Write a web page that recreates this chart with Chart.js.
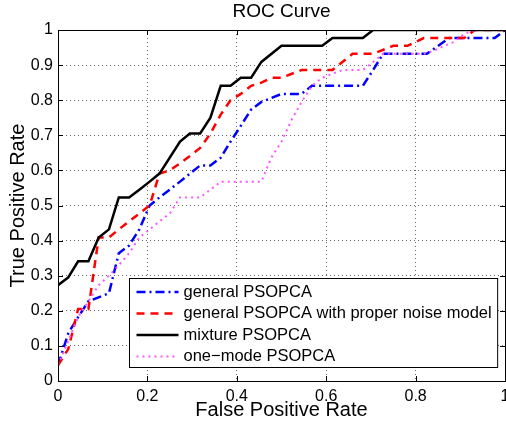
<!DOCTYPE html>
<html>
<head>
<meta charset="utf-8">
<script src="https://cdn.jsdelivr.net/npm/chart.js@4"></script>
<style>
  html, body { margin: 0; padding: 0; overflow: hidden; background: #fff; }
  #wrap { width: 520px; height: 425px; }
</style>
</head>
<body>
<div id="wrap"><canvas id="roc" width="520" height="425"></canvas></div>
<script>
// series names
const seriesNames = [
    "general PSOPCA",
    "general PSOPCA with proper noise model",
    "mixture PSOPCA",
    "one\u2212mode PSOPCA"
]

// general PSOPCA (blue dash-dot)
const fprGeneral = [0, 0.023, 0.045, 0.068, 0.114, 0.136, 0.159, 0.182, 0.205, 0.227, 0.25, 0.273, 0.295, 0.318, 0.341, 0.364, 0.386, 0.409, 0.432, 0.455, 0.5, 0.545, 0.568, 0.682, 0.705, 0.727, 0.825, 0.875, 0.977, 1]
const tprGeneral = [0.045, 0.136, 0.182, 0.227, 0.25, 0.364, 0.386, 0.432, 0.5, 0.523, 0.545, 0.568, 0.591, 0.614, 0.614, 0.636, 0.682, 0.727, 0.773, 0.795, 0.818, 0.818, 0.841, 0.841, 0.886, 0.932, 0.932, 0.977, 0.977, 1]

// general PSOPCA with proper noise model (red dashed)
const fprNoise = [0, 0.023, 0.045, 0.068, 0.091, 0.114, 0.136, 0.159, 0.182, 0.205, 0.227, 0.25, 0.273, 0.295, 0.318, 0.341, 0.364, 0.386, 0.409, 0.432, 0.455, 0.477, 0.5, 0.545, 0.614, 0.659, 0.705, 0.75, 0.782, 0.818, 0.909, 0.932, 1]
const tprNoise = [0.045, 0.091, 0.205, 0.205, 0.409, 0.409, 0.432, 0.455, 0.477, 0.5, 0.591, 0.6, 0.62, 0.641, 0.664, 0.705, 0.759, 0.8, 0.818, 0.841, 0.85, 0.864, 0.864, 0.886, 0.886, 0.932, 0.932, 0.955, 0.955, 0.977, 0.977, 1, 1]

// mixture PSOPCA (black solid)
const fprMixture = [0, 0.023, 0.045, 0.068, 0.091, 0.114, 0.136, 0.159, 0.182, 0.205, 0.227, 0.273, 0.295, 0.318, 0.341, 0.364, 0.386, 0.409, 0.432, 0.455, 0.5, 0.591, 0.614, 0.682, 0.705, 1]
const tprMixture = [0.273, 0.295, 0.341, 0.341, 0.409, 0.432, 0.523, 0.523, 0.545, 0.568, 0.591, 0.682, 0.705, 0.705, 0.75, 0.841, 0.841, 0.864, 0.864, 0.909, 0.955, 0.955, 0.977, 0.977, 1, 1]

// one-mode PSOPCA (magenta dotted)
const fprOneMode = [0, 0.023, 0.045, 0.068, 0.091, 0.114, 0.136, 0.159, 0.182, 0.205, 0.227, 0.25, 0.273, 0.318, 0.341, 0.364, 0.455, 0.477, 0.5, 0.523, 0.545, 0.568, 0.591, 0.636, 0.682, 0.705, 0.727, 0.818, 0.841, 0.864, 0.886, 0.909, 0.932, 1]
const tprOneMode = [0.045, 0.114, 0.182, 0.227, 0.273, 0.3, 0.33, 0.364, 0.409, 0.432, 0.455, 0.477, 0.523, 0.523, 0.545, 0.568, 0.568, 0.636, 0.682, 0.745, 0.795, 0.841, 0.864, 0.886, 0.886, 0.909, 0.932, 0.932, 0.941, 0.955, 0.966, 0.989, 1, 1]

// tick labels
const xTickLabels = ["0", "0.2", "0.4", "0.6", "0.8", "1"]
const yTickLabels = ["0", "0.1", "0.2", "0.3", "0.4", "0.5", "0.6", "0.7", "0.8", "0.9", "1"]

const fontFam = '"Liberation Sans", Arial, Helvetica, sans-serif'

function pts(xs, ys) {
    return xs.map((x, i) => ({ x: x, y: ys[i] }))
}

// box, inner ticks and legend like matlab
const matlabBox = {
    id: "matlabBox",
    afterDraw(chart) {
        const ctx = chart.ctx
        const a = chart.chartArea
        const xs = chart.scales.x
        const ys = chart.scales.y

        ctx.save()
        ctx.strokeStyle = "#000"
        ctx.lineWidth = 1
        ctx.setLineDash([])

        // inner tick marks
        ctx.beginPath()
        xs.ticks.forEach(t => {
            const px = Math.round(xs.getPixelForValue(t.value)) + 0.5
            ctx.moveTo(px, a.bottom); ctx.lineTo(px, a.bottom - 5)
            ctx.moveTo(px, a.top); ctx.lineTo(px, a.top + 5)
        })
        ys.ticks.forEach(t => {
            const py = Math.round(ys.getPixelForValue(t.value)) + 0.5
            ctx.moveTo(a.left, py); ctx.lineTo(a.left + 5, py)
            ctx.moveTo(a.right, py); ctx.lineTo(a.right - 5, py)
        })
        ctx.stroke()

        // frame
        ctx.strokeRect(Math.round(a.left) + 0.5, Math.round(a.top) + 0.5,
            Math.round(a.right - a.left), Math.round(a.bottom - a.top))

        // legend
        ctx.font = "16.5px " + fontFam
        let maxW = 0
        chart.data.datasets.forEach(ds => {
            maxW = Math.max(maxW, ctx.measureText(ds.label).width)
        })
        const boxW = 54 + maxW + 6
        const boxH = 89
        const bx = Math.round(a.right - 8 - boxW) + 0.5
        const by = Math.round(a.bottom - 14 - boxH) + 0.5
        ctx.fillStyle = "#fff"
        ctx.fillRect(bx, by, boxW, boxH)
        ctx.strokeStyle = "#000"
        ctx.lineWidth = 1
        ctx.strokeRect(bx, by, boxW, boxH)

        chart.data.datasets.forEach((ds, i) => {
            const ly = by + 13.5 + i * 21.5
            ctx.beginPath()
            ctx.strokeStyle = ds.borderColor
            ctx.lineWidth = ds.borderWidth
            ctx.setLineDash(ds.borderDash || [])
            ctx.moveTo(bx + 7, ly)
            ctx.lineTo(bx + 49, ly)
            ctx.stroke()
            ctx.setLineDash([])
            ctx.fillStyle = "#000"
            ctx.textBaseline = "middle"
            ctx.textAlign = "left"
            ctx.fillText(ds.label, bx + 54, ly)
        })
        ctx.restore()
    }
}

const chart = new Chart(document.getElementById("roc"), {
    type: "line",
    data: {
        datasets: [
            {
                label: seriesNames[0],
                data: pts(fprGeneral, tprGeneral),
                borderColor: "#0000ff",
                borderWidth: 2.5,
                borderDash: [9, 4, 2, 4],
                order: 4
            },
            {
                label: seriesNames[1],
                data: pts(fprNoise, tprNoise),
                borderColor: "#ff0000",
                borderWidth: 2.5,
                borderDash: [8, 6],
                order: 3
            },
            {
                label: seriesNames[2],
                data: pts(fprMixture, tprMixture),
                borderColor: "#000000",
                borderWidth: 2.5,
                order: 2
            },
            {
                label: seriesNames[3],
                data: pts(fprOneMode, tprOneMode),
                borderColor: "#ff55ff",
                borderWidth: 2,
                borderDash: [2, 4],
                order: 1
            }
        ]
    },
    options: {
        responsive: false,
        animation: false,
        devicePixelRatio: 1,
        elements: {
            point: { radius: 0 },
            line: { tension: 0, fill: false }
        },
        layout: { padding: { left: 0, right: 15, top: 0, bottom: 0 } },
        plugins: {
            legend: { display: false },
            tooltip: { enabled: false },
            title: {
                display: true,
                text: "ROC Curve",
                fullSize: false,
                color: "#000",
                font: { family: fontFam, size: 19, weight: "normal", lineHeight: 1.2 },
                padding: { top: 0, bottom: 7.2 }
            }
        },
        scales: {
            x: {
                type: "linear",
                min: 0,
                max: 1,
                ticks: {
                    stepSize: 0.2,
                    maxRotation: 0,
                    padding: 6,
                    color: "#000",
                    font: { family: fontFam, size: 16 },
                    callback: (v, i) => xTickLabels[i]
                },
                grid: { color: "#666", lineWidth: 1, drawTicks: false, borderDash: [1, 3] },
                border: { display: false, dash: [1, 3] },
                title: {
                    display: true,
                    text: "False Positive Rate",
                    color: "#000",
                    font: { family: fontFam, size: 20, lineHeight: 1.2 },
                    padding: { top: 0, bottom: 3 }
                },
                afterFit: s => { s.height = 44 }
            },
            y: {
                min: 0,
                max: 1,
                ticks: {
                    stepSize: 0.1,
                    padding: 5,
                    color: "#000",
                    font: { family: fontFam, size: 16 },
                    callback: (v, i) => yTickLabels[i]
                },
                grid: { color: "#666", lineWidth: 1, drawTicks: false, borderDash: [1, 3] },
                border: { display: false, dash: [1, 3] },
                title: {
                    display: true,
                    text: "True Positive Rate",
                    color: "#000",
                    font: { family: fontFam, size: 20, lineHeight: 1.2 },
                    padding: { top: 6, bottom: 0 }
                },
                afterFit: s => { s.width = 58 }
            }
        }
    },
    plugins: [matlabBox]
})
</script>
</body>
</html>
